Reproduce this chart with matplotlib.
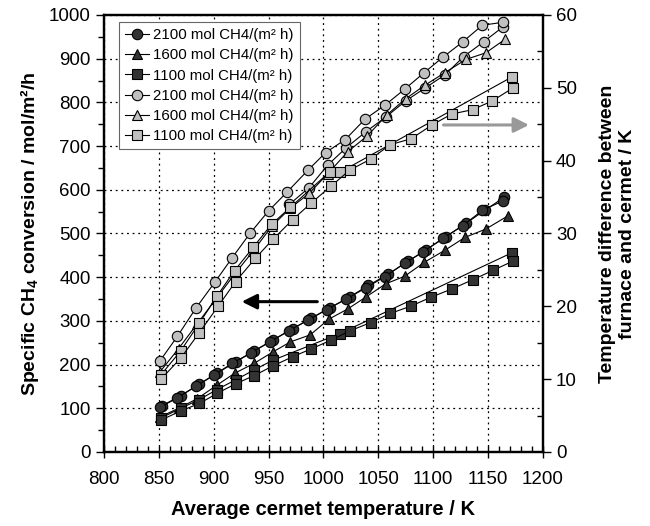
import matplotlib
matplotlib.use("Agg")
import matplotlib.pyplot as plt
from matplotlib.ticker import MultipleLocator

plt.rcParams['font.family'] = ['Liberation Sans', 'DejaVu Sans']
plt.rcParams['mathtext.fontset'] = 'custom'
plt.rcParams['mathtext.rm'] = 'Liberation Sans'
plt.rcParams['mathtext.bf'] = 'Liberation Sans:bold'
plt.rcParams['mathtext.default'] = 'bf'

# ---------------- data ----------------
labels = ["2100 mol CH4/(m² h)", "1600 mol CH4/(m² h)", "1100 mol CH4/(m² h)"]

# CH4 conversion (left axis)
conv2100_x = [851, 867, 884, 900, 917, 934, 951, 969, 986, 1003, 1021, 1039, 1056, 1074, 1091, 1109, 1127, 1145, 1164]
conv2100_y = [102, 124, 151, 176, 203, 227, 252, 278, 302, 326, 350, 376, 401, 432, 458, 489, 518, 553, 575]
conv2100b_x = [853, 870, 887, 903, 920, 937, 954, 972, 989, 1006, 1024, 1041, 1059, 1077, 1094, 1112, 1130, 1147, 1165]
conv2100b_y = [106, 129, 155, 180, 206, 231, 256, 282, 306, 330, 355, 381, 407, 436, 463, 493, 523, 553, 583]

conv1600_x = [851, 868, 885, 903, 919, 937, 954, 970, 988, 1005, 1022, 1039, 1057, 1074, 1092, 1111, 1129, 1148, 1168]
conv1600_y = [80, 100, 122, 153, 180, 203, 229, 252, 268, 304, 327, 355, 385, 402, 434, 462, 491, 510, 540]

conv1100_x = [852, 870, 887, 903, 920, 937, 954, 972, 989, 1007, 1024, 1043, 1061, 1080, 1098, 1117, 1136, 1155, 1173]
conv1100_y = [73, 94, 111, 134, 156, 175, 197, 218, 236, 256, 277, 296, 317, 334, 354, 373, 394, 416, 437]
conv1100b_x = [852, 870, 887, 903, 920, 937, 954, 1015, 1172]
conv1100b_y = [78, 100, 120, 143, 165, 188, 210, 271, 456]

# Temperature difference furnace - cermet (right axis)
dt2100_x = [851, 867, 884, 901, 917, 933, 950, 967, 986, 1002, 1020, 1038, 1056, 1074, 1092, 1109, 1127, 1145, 1164]
dt2100_y = [12.5, 15.9, 19.8, 23.3, 26.7, 30.0, 33.1, 35.7, 38.7, 41.1, 42.9, 45.7, 47.6, 49.8, 52.1, 54.2, 56.3, 58.6, 59.0]
dt2100b_x = [969, 987, 1004, 1021, 1039, 1057, 1075, 1093, 1111, 1128, 1146, 1164]
dt2100b_y = [34.0, 36.3, 39.4, 41.8, 44.0, 46.0, 48.2, 50.0, 51.8, 54.3, 56.3, 58.4]

dt1600_x = [851, 868, 885, 902, 919, 936, 953, 970, 987, 1004, 1022, 1040, 1058, 1075, 1093, 1111, 1130, 1148, 1166]
dt1600_y = [11.0, 14.2, 17.6, 21.0, 24.4, 27.6, 31.0, 33.5, 35.5, 38.2, 41.2, 43.4, 46.3, 48.5, 50.4, 52.1, 53.9, 54.8, 56.7]

dt1100_x = [852, 870, 887, 904, 920, 938, 954, 972, 989, 1007, 1024, 1043, 1061, 1080, 1099, 1117, 1136, 1154, 1173]
dt1100_y = [10.0, 12.9, 16.4, 20.0, 23.4, 26.6, 29.2, 31.9, 34.2, 36.5, 38.7, 40.2, 42.2, 43.0, 44.9, 46.4, 47.0, 48.2, 50.0]
dt1100b_x = [852, 870, 887, 903, 919, 936, 953, 970, 1006, 1015, 1172]
dt1100b_y = [10.6, 13.9, 17.7, 21.4, 24.9, 28.1, 31.3, 33.6, 38.5, 38.4, 51.5]

xlabel = "Average cermet temperature / K"
ylabel_left = r"Specific CH$_4$ conversion / mol/m²/h"
ylabel_right = "Temperature difference between\nfurnace and cermet / K"

# ---------------- style ----------------
DARK = "#333333"
LIGHT = "#c0c0c0"
ms = 7.5
mew = 0.8
lw = 0.8

fig = plt.figure(figsize=(6.5, 5.26), dpi=100)
ax = fig.add_axes([0.16, 0.1407, 0.675, 0.8308])
ax2 = ax.twinx()

def series(a, x, y, marker, fc, label=None):
    return a.plot(x, y, color="black", lw=lw, marker=marker, ms=ms, mfc=fc,
                  mec="black", mew=mew, label=label, zorder=3)[0]

h = []
series(ax, conv2100b_x, conv2100b_y, "o", DARK)
h.append(series(ax, conv2100_x, conv2100_y, "o", DARK, labels[0]))
h.append(series(ax, conv1600_x, conv1600_y, "^", DARK, labels[1]))
series(ax, conv1100b_x, conv1100b_y, "s", DARK)
h.append(series(ax, conv1100_x, conv1100_y, "s", DARK, labels[2]))

series(ax2, dt2100b_x, dt2100b_y, "o", LIGHT)
h.append(series(ax2, dt2100_x, dt2100_y, "o", LIGHT, labels[0]))
h.append(series(ax2, dt1600_x, dt1600_y, "^", LIGHT, labels[1]))
series(ax2, dt1100b_x, dt1100b_y, "s", LIGHT)
h.append(series(ax2, dt1100_x, dt1100_y, "s", LIGHT, labels[2]))

ax.set_xlim(800, 1200)
ax.set_ylim(0, 1000)
ax2.set_ylim(0, 60)

ax.xaxis.set_major_locator(MultipleLocator(50))
ax.xaxis.set_minor_locator(MultipleLocator(10))
ax.yaxis.set_major_locator(MultipleLocator(100))
ax.yaxis.set_minor_locator(MultipleLocator(50))
ax2.yaxis.set_major_locator(MultipleLocator(10))
ax2.yaxis.set_minor_locator(MultipleLocator(5))

ax.grid(True, which="major", color="black", linestyle=(0, (1.5, 3)), lw=0.9)
ax.set_axisbelow(True)

fs = 13.5
ax.tick_params(axis="x", which="major", direction="inout", length=8, width=1, labelsize=fs, pad=10)
ax.tick_params(axis="x", which="minor", direction="in", length=4, width=1)
ax.tick_params(axis="y", which="major", direction="out", length=6, width=1, labelsize=fs)
ax.tick_params(axis="y", which="minor", direction="out", length=4, width=1)
ax2.tick_params(axis="y", which="major", direction="out", length=6, width=1, labelsize=fs)
ax2.tick_params(axis="y", which="minor", direction="in", length=4, width=1)

for a in (ax, ax2):
    for s in a.spines.values():
        s.set_linewidth(1.6)

ax.set_xlabel(xlabel, fontsize=14.5, fontweight="bold", labelpad=8)
ax.set_ylabel(ylabel_left, fontsize=14, fontweight="bold", labelpad=6)
ax2.set_ylabel(ylabel_right, fontsize=14, fontweight="bold", labelpad=16)

# arrows
ax.annotate("", xy=(923, 344), xytext=(997, 344),
            arrowprops=dict(arrowstyle="-|>,head_length=0.9,head_width=0.45",
                            color="black", lw=2.2), zorder=4)
ax2.annotate("", xy=(1190, 44.9), xytext=(1107, 44.9),
             arrowprops=dict(arrowstyle="-|>,head_length=0.9,head_width=0.45",
                             color="#999999", lw=2.2), zorder=4)

leg = ax2.legend(handles=h, loc="upper left", bbox_to_anchor=(0.034, 0.984),
                 borderaxespad=0, fontsize=10.8, frameon=True, fancybox=False,
                 edgecolor="#666666", framealpha=1, handlelength=1.6,
                 handletextpad=0.3, labelspacing=0.42, borderpad=0.4)
leg.get_frame().set_linewidth(0.8)

fig.savefig("out.png", dpi=100)
